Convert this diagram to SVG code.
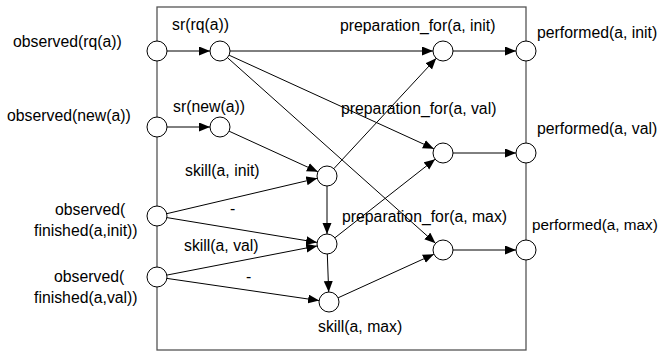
<svg xmlns="http://www.w3.org/2000/svg" width="661" height="353" viewBox="0 0 661 353">
<style>
.n{fill:#fff;stroke:#000;stroke-width:1}
.e{stroke:#000;stroke-width:1;fill:none;marker-end:url(#ah)}
.t{font-family:"Liberation Sans",Arial,sans-serif;font-size:15.8px;fill:#000}
</style>
<defs>
<marker id="ah" markerUnits="userSpaceOnUse" markerWidth="12" markerHeight="10" refX="11" refY="4.5" orient="auto"><path d="M0,0 L11,4.5 L0,9 z" fill="#000"/></marker>
</defs>
<rect x="157" y="7" width="369" height="343" fill="none" stroke="#555" stroke-width="1.3"/>
<g id="connectors">
<line class="e" x1="167" y1="51" x2="210" y2="51"/>
<line class="e" x1="167" y1="127" x2="210" y2="127"/>
<line class="e" x1="230" y1="51" x2="433" y2="51"/>
<line class="e" x1="229.1" y1="55.2" x2="433.9" y2="148.8"/>
<line class="e" x1="227.5" y1="57.7" x2="435.5" y2="243.3"/>
<line class="e" x1="229.1" y1="131.2" x2="317.9" y2="171.8"/>
<line class="e" x1="333.8" y1="168.7" x2="436.2" y2="58.3"/>
<line class="e" x1="327" y1="186" x2="327" y2="234"/>
<line class="e" x1="327.3" y1="254" x2="328.7" y2="292"/>
<line class="e" x1="334.9" y1="237.8" x2="435.1" y2="159.2"/>
<line class="e" x1="338.1" y1="297.8" x2="433.9" y2="254.2"/>
<line class="e" x1="166.7" y1="213.7" x2="317.3" y2="178.3"/>
<line class="e" x1="166.9" y1="217.6" x2="317.1" y2="242.4"/>
<line class="e" x1="166.8" y1="275.1" x2="317.2" y2="245.9"/>
<line class="e" x1="166.9" y1="278.4" x2="319.1" y2="300.6"/>
<line class="e" x1="453" y1="51" x2="516" y2="51"/>
<line class="e" x1="453" y1="153" x2="516" y2="153"/>
<line class="e" x1="453" y1="250" x2="516" y2="250"/>
<text class="t" x="230" y="214">-</text>
<text class="t" x="246" y="282">-</text>
</g>
<g id="obs_rq"><circle class="n" cx="157" cy="51" r="10"/><text class="t" x="13" y="47">observed(rq(a))</text></g>
<g id="obs_new"><circle class="n" cx="157" cy="127" r="10"/><text class="t" x="7" y="121">observed(new(a))</text></g>
<g id="obs_fin_init"><circle class="n" cx="157" cy="216" r="10"/><text class="t" x="55" y="215">observed(</text><text class="t" x="34" y="236">finished(a,init))</text></g>
<g id="obs_fin_val"><circle class="n" cx="157" cy="277" r="10"/><text class="t" x="54" y="282">observed(</text><text class="t" x="34" y="303">finished(a,val))</text></g>
<g id="sr_rq"><circle class="n" cx="220" cy="51" r="10"/><text class="t" x="172" y="30">sr(rq(a))</text></g>
<g id="sr_new"><circle class="n" cx="220" cy="127" r="10"/><text class="t" x="173" y="112">sr(new(a))</text></g>
<g id="skill_init"><circle class="n" cx="327" cy="176" r="10"/><text class="t" x="185" y="176">skill(a, init)</text></g>
<g id="skill_val"><circle class="n" cx="327" cy="244" r="10"/><text class="t" x="184" y="251">skill(a, val)</text></g>
<g id="skill_max"><circle class="n" cx="329" cy="302" r="10"/><text class="t" x="318" y="332">skill(a, max)</text></g>
<g id="prep_init"><circle class="n" cx="443" cy="51" r="10"/><text class="t" x="340" y="31">preparation_for(a, init)</text></g>
<g id="prep_val"><circle class="n" cx="443" cy="153" r="10"/><text class="t" x="341" y="114">preparation_for(a, val)</text></g>
<g id="prep_max"><circle class="n" cx="443" cy="250" r="10"/><text class="t" x="342" y="222">preparation_for(a, max)</text></g>
<g id="perf_init"><circle class="n" cx="526" cy="51" r="10"/><text class="t" x="537" y="38">performed(a, init)</text></g>
<g id="perf_val"><circle class="n" cx="526" cy="153" r="10"/><text class="t" x="537" y="134">performed(a, val)</text></g>
<g id="perf_max"><circle class="n" cx="526" cy="250" r="10"/><text class="t" x="532" y="230" style="font-size:15.3px">performed(a, max)</text></g>
</svg>
